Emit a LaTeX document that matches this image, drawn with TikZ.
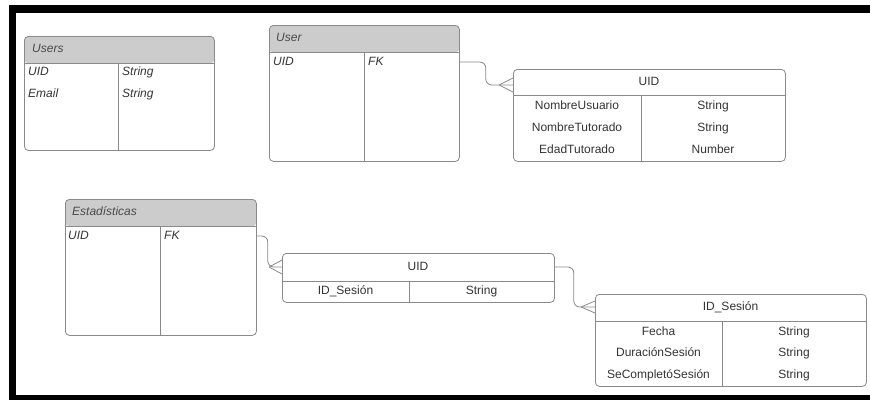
\documentclass[tikz,border=0pt]{standalone}
\usepackage{fontspec}
\setmainfont{Liberation Sans}
\definecolor{linegray}{HTML}{8A8A8A}
\definecolor{hdrgray}{HTML}{CCCCCC}
\definecolor{txtgray}{HTML}{333333}
\definecolor{hdrtxtgray}{HTML}{4A4A4A}

\begin{document}
\begin{tikzpicture}[
		x=1pt, y=-1pt,
		tbl/.style={draw=linegray, line width=0.8pt, rounded corners=4pt,
			inner sep=0pt, anchor=north west},
		hdr/.style={path picture={
			\fill[hdrgray] (path picture bounding box.north west)
				rectangle ([yshift=-#1]path picture bounding box.north east);}},
		sep/.style={draw=linegray, line width=0.8pt},
		rel/.style={draw=linegray, line width=0.8pt, rounded corners=6pt},
		fld/.style={font=\fontsize{12}{14}\selectfont, text=txtgray, inner sep=0pt,
			text height=9pt, text depth=2.5pt},
		fldi/.style={fld, anchor=west, font=\fontsize{12}{14}\selectfont\itshape},
		hdrtxt/.style={fldi, text=hdrtxtgray}
	]
	% page size in pixels: 1pt per pixel, y running down like the screenshot
	\useasboundingbox (0,0) rectangle (870,400);

	% black frame, cut off on the right
	\fill[black] (9,5) rectangle (870,13);
	\fill[black] (9,5) rectangle (16,400);
	\fill[black] (9,395) rectangle (870,400);

	% Users
	\node[tbl, hdr=27pt, minimum width=190pt, minimum height=114pt] (users) at (24,36) {};
	\draw[sep] ([yshift=-27pt]users.north west) -- ([yshift=-27pt]users.north east);
	\draw[sep] ([xshift=94pt,yshift=-27pt]users.north west) -- ([xshift=94pt]users.south west);
	\node[hdrtxt] (usershd) at (32,49.5) {Users};
	\node[fldi] (usersuid) at (28,72) {UID};
	\node[fldi] (usersuidt) at (122,72) {String};
	\node[fldi] (usersmail) at (28,94) {Email};
	\node[fldi] (usersmailt) at (122,94) {String};

	% User
	\node[tbl, hdr=27pt, minimum width=190pt, minimum height=136pt] (user) at (269,25) {};
	\draw[sep] ([yshift=-27pt]user.north west) -- ([yshift=-27pt]user.north east);
	\draw[sep] ([xshift=95pt,yshift=-27pt]user.north west) -- ([xshift=95pt]user.south west);
	\node[hdrtxt] (userhd) at (276,38.5) {User};
	\node[fldi] (useruid) at (273,62) {UID};
	\node[fldi] (userfk) at (368,62) {FK};

	% UID entity (user data)
	\node[tbl, minimum width=272pt, minimum height=92pt] (uida) at (513,69) {};
	\draw[sep] ([yshift=-26pt]uida.north west) -- ([yshift=-26pt]uida.north east);
	\draw[sep] ([xshift=128pt,yshift=-26pt]uida.north west) -- ([xshift=128pt]uida.south west);
	\node[fld] (uidahd) at (649,82) {UID};
	\node[fld] (uidanu) at (577,106) {NombreUsuario};
	\node[fld] (uidanut) at (713,106) {String};
	\node[fld] (uidant) at (577,128) {NombreTutorado};
	\node[fld] (uidantt) at (713,128) {String};
	\node[fld] (uidaet) at (577,150) {EdadTutorado};
	\node[fld] (uidaett) at (713,150) {Number};

	% Estadisticas
	\node[tbl, hdr=27pt, minimum width=191pt, minimum height=136pt] (est) at (65,199) {};
	\draw[sep] ([yshift=-27pt]est.north west) -- ([yshift=-27pt]est.north east);
	\draw[sep] ([xshift=95pt,yshift=-27pt]est.north west) -- ([xshift=95pt]est.south west);
	\node[hdrtxt] (esthd) at (72,212.5) {Estadísticas};
	\node[fldi] (estuid) at (68,236) {UID};
	\node[fldi] (estfk) at (164,236) {FK};

	% UID entity (sessions list)
	\node[tbl, minimum width=272pt, minimum height=49pt] (uidb) at (282,253) {};
	\draw[sep] ([yshift=-28pt]uidb.north west) -- ([yshift=-28pt]uidb.north east);
	\draw[sep] ([xshift=127pt,yshift=-28pt]uidb.north west) -- ([xshift=127pt]uidb.south west);
	\node[fld] (uidbhd) at (418,267) {UID};
	\node[fld] (uidbid) at (345.5,291.5) {ID\_Sesión};
	\node[fld] (uidbidt) at (481.5,291.5) {String};

	% ID_Sesion entity
	\node[tbl, minimum width=271pt, minimum height=92pt] (ses) at (595,294) {};
	\draw[sep] ([yshift=-27pt]ses.north west) -- ([yshift=-27pt]ses.north east);
	\draw[sep] ([xshift=127pt,yshift=-27pt]ses.north west) -- ([xshift=127pt]ses.south west);
	\node[fld] (seshd) at (730.5,307.5) {ID\_Sesión};
	\node[fld] (sesfe) at (658.5,332) {Fecha};
	\node[fld] (sesfet) at (794,332) {String};
	\node[fld] (sesdu) at (658.5,353.5) {DuraciónSesión};
	\node[fld] (sesdut) at (794,353.5) {String};
	\node[fld] (sesco) at (658.5,375) {SeCompletóSesión};
	\node[fld] (sescot) at (794,375) {String};

	% connectors enter each entity level with its header, crow's foot on the many side
	\coordinate (uidain) at ([yshift=-16pt]uida.north west);
	\coordinate (uidbin) at ([yshift=-14pt]uidb.north west);
	\coordinate (sesin) at ([yshift=-13pt]ses.north west);

	\draw[rel] (userfk -| user.east) -- ++(26,0) |- (uidain);
	\draw[sep] ([xshift=-14pt]uidain) -- ([yshift=7pt]uidain)
		([xshift=-14pt]uidain) -- ([yshift=-7pt]uidain);

	\draw[rel] (estfk -| est.east) -- ++(11,0) |- (uidbin);
	\draw[sep] ([xshift=-13pt]uidbin) -- ([yshift=7pt]uidbin)
		([xshift=-13pt]uidbin) -- ([yshift=-7pt]uidbin);

	\draw[rel] (uidbin -| uidb.east) -- ++(19,0) |- (sesin);
	\draw[sep] ([xshift=-14pt]sesin) -- ([yshift=6pt]sesin)
		([xshift=-14pt]sesin) -- ([yshift=-6pt]sesin);
\end{tikzpicture}
\end{document}
